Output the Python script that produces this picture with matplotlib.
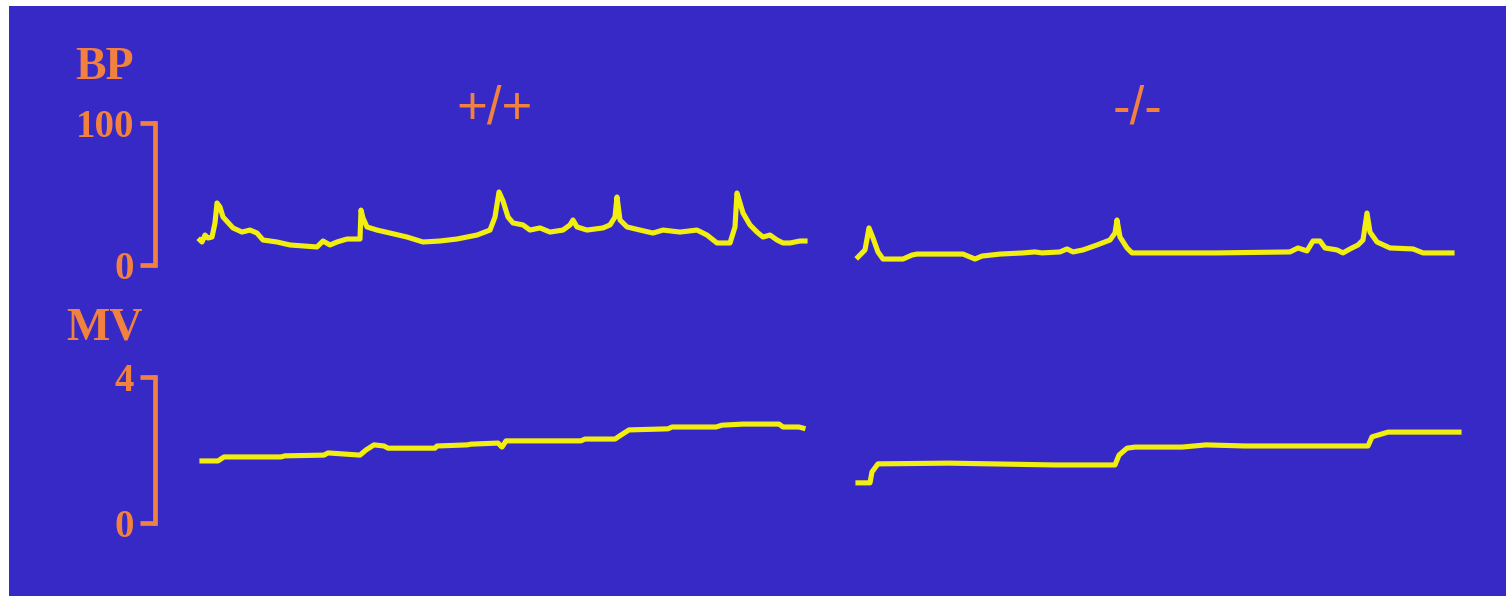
import matplotlib
matplotlib.use("Agg")
import matplotlib.pyplot as plt
from matplotlib.patches import Rectangle

# --- data (time in s, BP in mmHg, MV arbitrary units) ---
bp_wt_t = [0.0, 0.2, 0.5, 0.8, 1.2, 1.5, 1.7, 2.0, 2.3, 3.3, 4.2, 5.0, 5.7, 6.3, 7.7, 9.0,
           11.7, 12.3, 13.0, 13.7, 14.7, 16.0, 16.1, 16.3, 16.7, 17.7, 19.0, 20.7, 22.3,
           24.0, 25.7, 27.7, 29.0, 29.5, 29.9, 30.3, 30.8, 31.3, 32.3, 33.0, 34.0, 35.0,
           36.3, 37.0, 37.3, 37.7, 38.7, 40.3, 41.0, 41.5, 41.7, 42.0, 42.7, 44.0, 45.3,
           46.3, 48.0, 49.7, 50.7, 51.7, 53.0, 53.5, 53.7, 54.0, 54.3, 55.0, 55.7, 56.3,
           57.0, 57.7, 58.3, 59.0, 60.0, 60.5]
bp_wt = [17.6, 16.2, 21.1, 19.0, 19.7, 29.6, 43.7, 40.8, 33.8, 26.1, 23.2, 24.6, 22.5, 17.6,
         16.2, 14.1, 12.7, 16.9, 14.1, 16.2, 18.3, 18.3, 38.7, 33.1, 26.8, 24.6, 22.5, 19.7,
         16.2, 16.9, 18.3, 21.1, 24.6, 33.8, 51.4, 45.1, 33.8, 29.6, 28.2, 24.6, 26.1, 23.2,
         24.6, 28.2, 31.7, 26.8, 24.6, 26.1, 28.2, 33.8, 47.9, 31.7, 26.8, 24.6, 22.5, 24.6,
         23.2, 24.6, 21.1, 15.5, 15.5, 26.8, 50.7, 43.7, 36.6, 28.2, 23.2, 19.7, 21.1, 17.6,
         15.5, 15.5, 16.9, 16.9]

bp_ko_t = [0.0, 0.7, 1.1, 1.5, 2.0, 2.5, 4.5, 5.4, 5.9, 10.5, 11.7, 12.4, 14.2, 16.5, 17.7,
           18.4, 20.2, 20.9, 21.5, 22.5, 23.9, 25.2, 25.7, 25.9, 26.2, 26.9, 27.4, 31.2,
           35.9, 43.2, 44.0, 44.9, 45.5, 46.2, 46.7, 47.9, 48.5, 49.2, 50.0, 50.5, 50.9,
           51.2, 51.9, 53.2, 55.5, 56.5, 58.2, 59.4]
bp_ko = [5.6, 10.6, 26.1, 19.0, 9.2, 4.2, 4.2, 7.0, 7.7, 7.7, 4.2, 6.3, 7.7, 8.5, 9.2, 8.5,
         9.2, 11.3, 9.2, 10.6, 14.1, 17.6, 22.5, 31.7, 19.7, 12.0, 8.5, 8.5, 8.5, 9.2, 12.0,
         9.9, 16.9, 16.9, 12.0, 10.6, 8.5, 11.3, 14.1, 17.6, 36.6, 23.2, 16.2, 12.0, 11.3,
         8.5, 8.5, 8.5]

mv_wt_t = [0.2, 1.8, 2.4, 8.1, 8.5, 12.4, 12.8, 16.0, 16.6, 17.4, 18.4, 18.8, 23.5, 23.7,
           26.7, 27.1, 29.8, 30.2, 30.6, 38.1, 38.5, 41.5, 42.1, 42.9, 46.8, 47.2, 51.6,
           52.2, 54.3, 57.9, 58.3, 59.9, 60.3]
mv_wt = [1.70, 1.70, 1.81, 1.81, 1.84, 1.86, 1.92, 1.86, 2.00, 2.14, 2.11, 2.05, 2.05, 2.11,
         2.14, 2.16, 2.19, 2.08, 2.25, 2.25, 2.30, 2.30, 2.41, 2.55, 2.58, 2.63, 2.63, 2.68,
         2.71, 2.71, 2.63, 2.63, 2.60]

mv_ko_t = [0.0, 1.2, 1.4, 2.0, 9.1, 19.7, 25.7, 26.1, 26.9, 27.7, 32.4, 34.8, 38.7, 51.0,
           51.4, 53.0, 60.1]
mv_ko = [1.10, 1.10, 1.40, 1.62, 1.64, 1.59, 1.59, 1.86, 2.05, 2.08, 2.08, 2.14, 2.11, 2.11,
         2.36, 2.49, 2.49]

groups = ["+/+", "-/-"]
bp_ticks = [0, 100]
mv_ticks = [0, 4]

BLUE = "#3629c6"; ORANGE = "#f2803e"; YELLOW = "#f2ee10"
W, H = 1506, 596
fig = plt.figure(figsize=(W / 100, H / 100), dpi=100, facecolor="white")
fig.add_artist(Rectangle((9 / W, 0), 1, 1 - 6 / H, transform=fig.transFigure,
                         facecolor=BLUE, edgecolor="none", zorder=-10))

def px_axes(x0, ytop, x1, ybot):
    ax = fig.add_axes([x0 / W, 1 - ybot / H, (x1 - x0) / W, (ybot - ytop) / H])
    ax.patch.set_visible(False)
    for s in ax.spines.values(): s.set_visible(False)
    ax.set_xticks([]); ax.set_yticks([])
    ax.set_xlim(0, 60)
    return ax

def scale_bar(ax, ticks, x_off):
    sp = ax.spines["left"]
    sp.set_visible(True); sp.set_position(("axes", x_off))
    sp.set_color(ORANGE); sp.set_linewidth(3.4); sp.set_capstyle("projecting")
    ax.set_yticks(ticks)
    ax.tick_params(axis="y", colors=ORANGE, direction="out", length=11, width=3.4, pad=4)
    for lb in ax.get_yticklabels():
        lb.set_fontfamily("Liberation Serif"); lb.set_fontweight("bold"); lb.set_fontsize(28)

# BP row
ax1 = px_axes(200, 123, 800, 265); ax1.set_ylim(0, 100)
ax2 = px_axes(858, 123, 1458, 265); ax2.set_ylim(0, 100)
ax1.plot(bp_wt_t, bp_wt, color=YELLOW, lw=3.7, clip_on=False, solid_joinstyle="round")
ax2.plot(bp_ko_t, bp_ko, color=YELLOW, lw=3.7, clip_on=False, solid_joinstyle="round")
scale_bar(ax1, bp_ticks, -45 / 600)

# MV row
ax3 = px_axes(200, 377, 800, 523); ax3.set_ylim(0, 4)
ax4 = px_axes(858, 377, 1458, 523); ax4.set_ylim(0, 4)
ax3.plot(mv_wt_t, mv_wt, color=YELLOW, lw=3.7, clip_on=False, solid_joinstyle="round")
ax4.plot(mv_ko_t, mv_ko, color=YELLOW, lw=3.7, clip_on=False, solid_joinstyle="round")
scale_bar(ax3, mv_ticks, -45 / 600)

# labels
fig.text(105 / W, 1 - 68 / H, "BP", color=ORANGE, fontsize=33, fontweight="bold",
         family="Liberation Serif", ha="center", va="center")
fig.text(105 / W, 1 - 329 / H, "MV", color=ORANGE, fontsize=33, fontweight="bold",
         family="Liberation Serif", ha="center", va="center")
for g, xc in zip(groups, (495, 1138)):
    fig.text(xc / W, 1 - 109 / H, g, color=ORANGE, fontsize=38,
             family="Liberation Sans", ha="center", va="center")

fig.savefig("out.png", dpi=100, facecolor="white")
